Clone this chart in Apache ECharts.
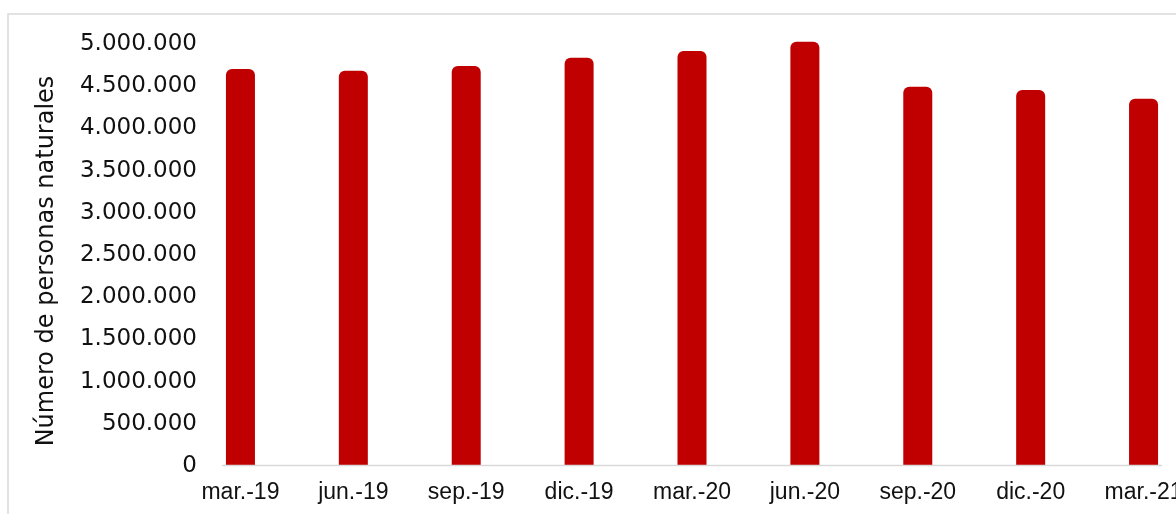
<!DOCTYPE html>
<html>
<head>
<meta charset="utf-8">
<title>Número de personas naturales</title>
<script src="https://cdn.jsdelivr.net/npm/echarts@6/dist/echarts.min.js"></script>
<style>
  html, body { margin: 0; padding: 0; background: #ffffff; overflow: hidden; }
  /* the reference chart is cut off on the right, so the canvas is a bit wider than the window */
  #chart { width: 1224px; height: 514px; }
</style>
</head>
<body>
<div id="chart"></div>
<script>
// trimestres
var categories = ['mar.-19', 'jun.-19', 'sep.-19', 'dic.-19', 'mar.-20', 'jun.-20', 'sep.-20', 'dic.-20', 'mar.-21'];
// personas naturales
var personas = [4704000, 4684000, 4739000, 4838000, 4917000, 5027000, 4494000, 4455000, 4352000];
var yTicks = [0, 500000, 1000000, 1500000, 2000000, 2500000, 3000000, 3500000, 4000000, 4500000, 5000000];

function miles(v) {
  return String(v).replace(/\B(?=(\d{3})+(?!\d))/g, '.');
}

var chart = echarts.init(document.getElementById('chart'), null, { renderer: 'canvas' });

var option = {
  backgroundColor: '#ffffff',
  animation: false,
  grid: {
    left: 184,
    top: 44,
    bottom: 48,
    right: 24
  },
  xAxis: {
    type: 'category',
    data: categories,
    boundaryGap: true,
    axisLine: { show: false },
    axisTick: { show: false },
    axisLabel: {
      color: '#111',
      fontFamily: 'Liberation Sans, Arial, sans-serif',
      fontSize: 23,
      margin: 15,
      interval: 0
    }
  },
  yAxis: {
    type: 'value',
    min: yTicks[0],
    max: yTicks[yTicks.length - 1],
    interval: yTicks[1] - yTicks[0],
    splitLine: { show: false },
    axisLine: { show: false },
    axisTick: { show: false },
    axisLabel: {
      color: '#111',
      fontFamily: 'DejaVu Sans, sans-serif',
      fontSize: 23,
      margin: -13,
      formatter: miles
    },
    name: 'Número de personas naturales',
    nameLocation: 'middle',
    nameRotate: 90,
    nameGap: 125,
    nameTextStyle: {
      color: '#111',
      fontFamily: 'DejaVu Sans, sans-serif',
      fontSize: 24,
      padding: [0, 12, 0, 0]
    }
  },
  series: [{
    type: 'bar',
    data: personas,
    barWidth: 29,
    clip: false,
    itemStyle: {
      color: '#C00000',
      borderRadius: [6, 6, 0, 0]
    }
  }],
  graphic: [
    {
      type: 'rect',
      z: 100,
      shape: { x: 8, y: 14, width: 1400, height: 700 },
      style: { fill: null, stroke: '#d9d9d9', lineWidth: 1.5 }
    },
    {
      type: 'line',
      z: 100,
      shape: { x1: 222, y1: 465.5, x2: 1162, y2: 465.5 },
      style: { stroke: '#d9d9d9', lineWidth: 1.5 }
    }
  ]
};

chart.setOption(option);
</script>
</body>
</html>
